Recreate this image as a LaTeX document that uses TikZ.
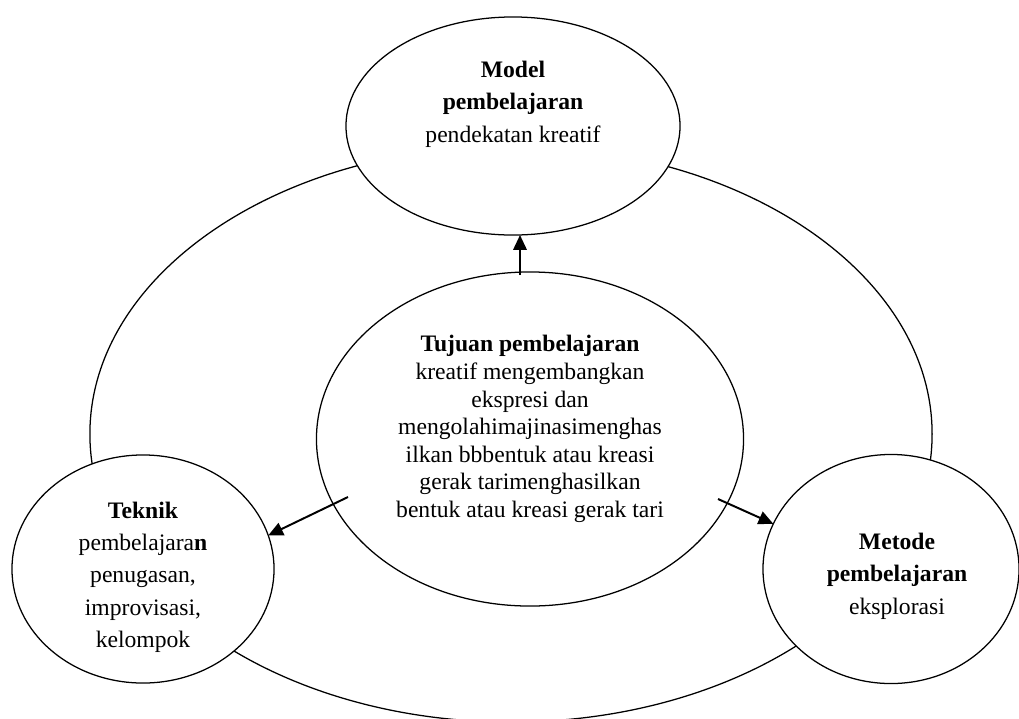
\documentclass[tikz,border=0pt]{standalone}
\usepackage{fontspec}
\setmainfont{Liberation Serif}
\usetikzlibrary{positioning,shapes.geometric,arrows.meta}

\begin{document}
\begin{tikzpicture}[x=0.025cm,y=-0.025cm,
bubble/.style={draw,ellipse,fill=white,line width=0.9pt,inner sep=0pt,outer sep=0pt},
txt/.style={align=center,inner sep=0pt,font=\fontsize{16.8}{23}\selectfont},
arr/.style={-{Triangle[length=10.5pt,width=9.5pt]},line width=1.4pt}]
\useasboundingbox (0,0) rectangle (1019,718);
\node (lingkar) [bubble,fill=none,minimum width=21.05cm,minimum height=14.4cm] at (511,434) {};
\node (model) [bubble,minimum width=8.35cm,minimum height=5.45cm] at (513,126) {};
\node (tujuan) [bubble,minimum width=10.675cm,minimum height=8.35cm] at (530,439) {};
\node (teknik) [bubble,minimum width=6.55cm,minimum height=5.7cm] at (143,569) {};
\node (metode) [bubble,minimum width=6.4cm,minimum height=5.725cm] at (891,569) {};
\node (modeltxt) [txt] at (513,104) {\textbf{Model}\\ \textbf{pembelajaran}\\ pendekatan kreatif};
\node (tujuantxt) [txt,font=\fontsize{16.8}{19.6}\selectfont] at (530,429) {\textbf{Tujuan pembelajaran}\\
    kreatif mengembangkan\\ ekspresi dan\\ mengolahimajinasimenghas\\
    ilkan bbbentuk atau kreasi\\ gerak tarimenghasilkan\\ bentuk atau kreasi gerak tari};
\node (tekniktxt) [txt] at (143,577) {\textbf{Teknik}\\ pembelajara\textbf{n}\\ penugasan,\\ improvisasi,\\ kelompok};
\node (metodetxt) [txt] at (897,576) {\textbf{Metode}\\ \textbf{pembelajaran}\\ eksplorasi};
\coordinate (naik) at (520,275);
\coordinate (kiri) at (348,497);
\coordinate (kanan) at (718,499);
\draw[arr] (naik) -- (naik |- model.south);
\draw[arr] (kiri) -- (teknik.15);
\draw[arr] (kanan) -- (metode.159);
\end{tikzpicture}
\end{document}
